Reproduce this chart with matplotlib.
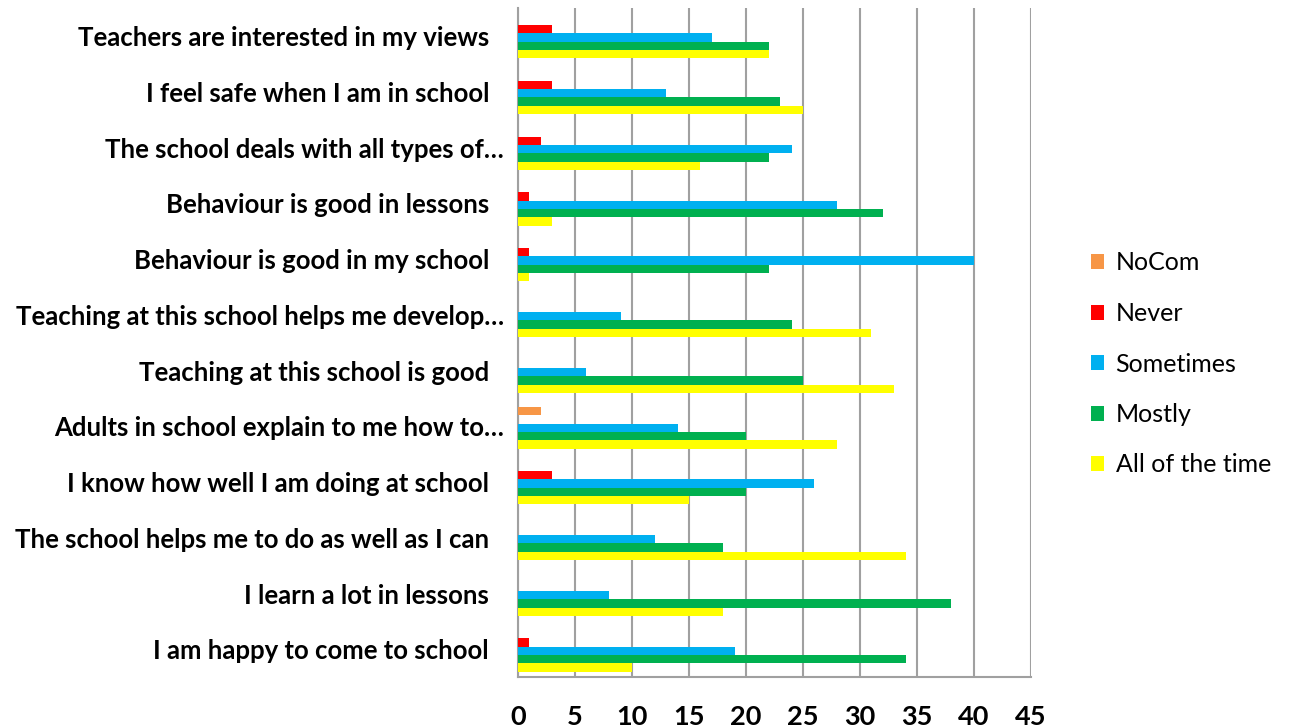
import numpy as np
import matplotlib.pyplot as plt
from matplotlib.patches import Patch

categories = [
    'Teachers are interested in my views',
    'I feel safe when I am in school',
    'The school deals with all types of…',
    'Behaviour is good in lessons',
    'Behaviour is good in my school',
    'Teaching at this school helps me develop…',
    'Teaching at this school is good',
    'Adults in school explain to me how to…',
    'I know how well I am doing at school',
    'The school helps me to do as well as I can',
    'I learn a lot in lessons',
    'I am happy to come to school',
]

nocom     = [0, 0, 0, 0, 0, 0, 0, 2, 0, 0, 0, 0]
never     = [3, 3, 2, 1, 1, 0, 0, 0, 3, 0, 0, 1]
sometimes = [17, 13, 24, 28, 40, 9, 6, 14, 26, 12, 8, 19]
mostly    = [22, 23, 22, 32, 22, 24, 25, 20, 20, 18, 38, 34]
all_time  = [22, 25, 16, 3, 1, 31, 33, 28, 15, 34, 18, 10]

series = [
    ('NoCom', nocom, '#F79646'),
    ('Never', never, '#FF0000'),
    ('Sometimes', sometimes, '#00B0F0'),
    ('Mostly', mostly, '#00B050'),
    ('All of the time', all_time, '#FFFF00'),
]

fig = plt.figure(figsize=(12.9, 7.28), dpi=100)
ax = fig.add_axes([518 / 1290, 1 - 677 / 728, 513 / 1290, 669 / 728])

y = np.arange(len(categories))
h = 0.15
for i, (name, vals, col) in enumerate(series):
    ax.barh(y + (i - 2) * h + 0.03, vals, height=h, color=col, zorder=3)

ax.set_ylim(len(categories) - 0.5, -0.5)
ax.set_xlim(0, 45)
ax.set_xticks(range(0, 46, 5))
ax.set_yticks(y)
ax.set_yticklabels([])
ax.tick_params(axis='y', length=0)
ax.tick_params(axis='x', length=0, pad=20, labelsize=19.5)
for lab in ax.get_xticklabels():
    lab.set_fontweight('bold')
    lab.set_family('Lato')

# category labels: truncated ones sit closer to the axis (Excel trailing space)
trans = ax.get_yaxis_transform()
for yi, cat in zip(y, categories):
    off = 14 if cat.endswith('…') else 29
    ax.text(-off / 513, yi + 0.04, cat, transform=trans, ha='right', va='center',
            fontsize=18.5, fontweight='bold', family='Lato')

ax.grid(axis='x', color='#A0A0A0', linewidth=1.5, zorder=0)
for s in ['top', 'right']:
    ax.spines[s].set_visible(False)
for s in ['left', 'bottom']:
    ax.spines[s].set_color('#A0A0A0')
    ax.spines[s].set_linewidth(1.5)

handles = [Patch(facecolor=c, label=n) for n, _, c in series]
fig.legend(handles=handles, loc='center left', bbox_to_anchor=(1068 / 1290, 1 - 364 / 728),
           frameon=False, prop={'family': 'Lato', 'size': 18},
           handlelength=0.55, handleheight=0.55, handletextpad=0.45, labelspacing=1.1)

fig.savefig('out.png', dpi=100)
